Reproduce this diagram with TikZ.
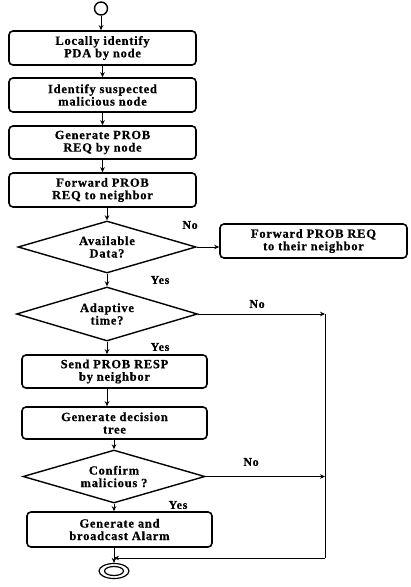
\documentclass[tikz,border=0pt]{standalone}
\usepackage{fontspec}
\setmainfont{Liberation Serif}[LetterSpace=6, BoldFeatures={FakeBold=0.6}]
\usetikzlibrary{shapes.geometric,arrows.meta}
\begin{document}
\begin{tikzpicture}[x=1pt,y=-1pt,
  txt/.style={font=\bfseries\fontsize{12.5}{12.5}\selectfont},
  procbox/.style={txt, draw, line width=1.6pt, rounded corners=4pt, minimum width=187pt, minimum height=34pt, align=center, inner sep=0pt},
  decision/.style={txt, draw, diamond, line width=1.4pt, inner sep=0pt, align=center, aspect=3.4},
  conn/.style={line width=1pt, -{Stealth[length=5pt,width=4.5pt]}},
  plain/.style={line width=1pt},
  lbl/.style={font=\bfseries\fontsize{12}{12}\selectfont}
]
\useasboundingbox (0,0) rectangle (411,587);

% start / end
\node[circle, draw, line width=1.4pt, minimum size=13pt, inner sep=0pt] (start) at (101,8.5) {};
\node[ellipse, draw, line width=1.2pt, minimum width=30pt, minimum height=15pt, inner sep=0pt] (end) at (114,571) {};
\node[ellipse, draw, line width=1.2pt, minimum width=19pt, minimum height=9pt, inner sep=0pt] (endin) at (114,571) {};

% process boxes
\node[procbox] (b1) at (102.5,48) {Locally identify\\PDA by node};
\node[procbox] (b2) at (102.5,95) {Identify suspected\\malicious node};
\node[procbox, minimum height=33pt] (b3) at (102.5,142.5) {Generate PROB\\REQ by node};
\node[procbox] (b4) at (102.5,190) {Forward PROB\\REQ to neighbor};
\node[procbox] (r1) at (313.5,241) {Forward PROB REQ\\to their neighbor};
\node[procbox, minimum width=185pt, minimum height=33pt] (b5) at (114.5,371.5) {Send PROB RESP\\by neighbor};
\node[procbox, minimum width=185pt, minimum height=32pt] (b6) at (114.5,423) {Generate decision\\tree};
\node[procbox, minimum width=185pt, minimum height=35pt] (b7) at (119.5,529.5) {Generate and\\broadcast Alarm};

% decisions
\node[decision, minimum width=178pt, minimum height=52pt] (d1) at (107,247) {Available\\Data?};
\node[decision, minimum width=181pt, minimum height=54pt] (d2) at (107,314) {Adaptive\\time?};
\node[decision, minimum width=182pt, minimum height=53pt] (d3) at (114,476.5) {Confirm\\malicious ?};

% side line coordinates
\coordinate (R1) at (325,314);
\coordinate (R2) at (325,558);

% connectors
\draw[conn] (start.south) -- (start.south |- b1.north);
\draw[conn] (b1.south) -- (b2.north);
\draw[conn] (b2.south) -- (b3.north);
\draw[conn] (b3.south) -- (b4.north);
\draw[conn] (b4.south -| d1.north) -- (d1.north);
\draw[conn] (d1.east) -- (d1.east -| r1.west);
\draw[conn] (d1.south) -- (d2.north);
\draw[conn] (d2.south) -- (d2.south |- b5.north);
\draw[conn] (d2.south |- b5.south) -- (d2.south |- b6.north);
\draw[conn] (b6.south -| d3.north) -- (d3.north);
\draw[conn] (d3.south) -- (d3.south |- b7.north);
\draw[conn] (end.north |- b7.south) -- (end.north);
\draw[conn] (d2.east) -- (R1);
\draw[conn] (d3.east) -- (d3.east -| R1);
\draw[plain] (R1) -- (R2);
\draw[conn] (R2) -- (end.north |- R2);

% labels
\node[lbl] (n1) at (190,225) {No};
\node[lbl] (y1) at (160,280) {Yes};
\node[lbl] (n2) at (257,304) {No};
\node[lbl] (y2) at (160,347) {Yes};
\node[lbl] (n3) at (251,462) {No};
\node[lbl] (y3) at (178,505) {Yes};
\end{tikzpicture}
\end{document}
